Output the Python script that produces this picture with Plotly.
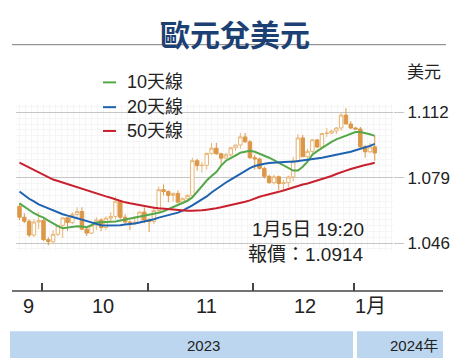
import plotly.graph_objects as go

# ---------------- data ----------------
dates = [
    "2023-09-25", "2023-09-26", "2023-09-27", "2023-09-28", "2023-09-29",
    "2023-10-02", "2023-10-03", "2023-10-04", "2023-10-05", "2023-10-06",
    "2023-10-09", "2023-10-10", "2023-10-11", "2023-10-12", "2023-10-13",
    "2023-10-16", "2023-10-17", "2023-10-18", "2023-10-19", "2023-10-20",
    "2023-10-23", "2023-10-24", "2023-10-25", "2023-10-26", "2023-10-27",
    "2023-10-30", "2023-10-31",
    "2023-11-01", "2023-11-02", "2023-11-03", "2023-11-06", "2023-11-07",
    "2023-11-08", "2023-11-09", "2023-11-10", "2023-11-13", "2023-11-14",
    "2023-11-15", "2023-11-16", "2023-11-17", "2023-11-20", "2023-11-21",
    "2023-11-22", "2023-11-23", "2023-11-24", "2023-11-27", "2023-11-28",
    "2023-11-29", "2023-11-30",
    "2023-12-01", "2023-12-04", "2023-12-05", "2023-12-06", "2023-12-07",
    "2023-12-08", "2023-12-11", "2023-12-12", "2023-12-13", "2023-12-14",
    "2023-12-15", "2023-12-18", "2023-12-19", "2023-12-20", "2023-12-21",
    "2023-12-22", "2023-12-25", "2023-12-26", "2023-12-27", "2023-12-28",
    "2023-12-29",
    "2024-01-01", "2024-01-02", "2024-01-03", "2024-01-04", "2024-01-05",
]

open_ = [
    1.0645, 1.0590, 1.0570, 1.0500, 1.0566,
    1.0573, 1.0477, 1.0467, 1.0504, 1.0549, 1.0587, 1.0563, 1.0604, 1.0619, 1.0530,
    1.0510, 1.0550, 1.0576, 1.0538, 1.0585, 1.0594, 1.0671, 1.0590, 1.0566, 1.0563,
    1.0564, 1.0616,
    1.0576, 1.0568, 1.0624, 1.0729, 1.0720, 1.0700, 1.0710, 1.0666, 1.0683, 1.0700,
    1.0875, 1.0850, 1.0852, 1.0912, 1.0938, 1.0910, 1.0888, 1.0905, 1.0940, 1.0954,
    1.0995, 1.0970,
    1.0890, 1.0884, 1.0836, 1.0796, 1.0764, 1.0794, 1.0760, 1.0764, 1.0793, 1.0875,
    1.0990, 1.0895, 1.0922, 1.0980, 1.0944, 1.1012, 1.1014, 1.1025, 1.1040, 1.1105,
    1.1060,
    1.1040, 1.1035, 1.0945, 1.0920, 1.0945,
]
high = [
    1.0660, 1.0610, 1.0580, 1.0580, 1.0615,
    1.0590, 1.0490, 1.0525, 1.0550, 1.0590, 1.0590, 1.0615, 1.0640, 1.0640, 1.0540,
    1.0555, 1.0590, 1.0585, 1.0595, 1.0615, 1.0695, 1.0675, 1.0605, 1.0575, 1.0595,
    1.0620, 1.0640,
    1.0585, 1.0645, 1.0745, 1.0755, 1.0725, 1.0715, 1.0725, 1.0690, 1.0705, 1.0890,
    1.0885, 1.0870, 1.0915, 1.0965, 1.0965, 1.0915, 1.0915, 1.0945, 1.0955, 1.1015,
    1.1015, 1.0980,
    1.0905, 1.0890, 1.0845, 1.0805, 1.0805, 1.0800, 1.0780, 1.0800, 1.0895, 1.1010,
    1.1005, 1.0935, 1.0985, 1.0985, 1.1015, 1.1040, 1.1030, 1.1045, 1.1120, 1.1140,
    1.1075,
    1.1045, 1.1045, 1.0955, 1.0965, 1.1000,
]
low = [
    1.0575, 1.0560, 1.0490, 1.0490, 1.0530,
    1.0470, 1.0448, 1.0455, 1.0495, 1.0485, 1.0520, 1.0555, 1.0590, 1.0525, 1.0495,
    1.0505, 1.0525, 1.0520, 1.0525, 1.0565, 1.0580, 1.0580, 1.0555, 1.0525, 1.0550,
    1.0560, 1.0560,
    1.0515, 1.0555, 1.0615, 1.0700, 1.0665, 1.0670, 1.0660, 1.0655, 1.0670, 1.0695,
    1.0825, 1.0815, 1.0830, 1.0905, 1.0905, 1.0850, 1.0885, 1.0895, 1.0925, 1.0935,
    1.0965, 1.0885,
    1.0830, 1.0830, 1.0785, 1.0760, 1.0755, 1.0725, 1.0725, 1.0740, 1.0770, 1.0865,
    1.0895, 1.0885, 1.0910, 1.0940, 1.0940, 1.0995, 1.1010, 1.1010, 1.1025, 1.1060,
    1.1035,
    1.1030, 1.0940, 1.0890, 1.0915, 1.0875,
]
close = [
    1.0590, 1.0570, 1.0500, 1.0566, 1.0573,
    1.0477, 1.0467, 1.0504, 1.0549, 1.0587, 1.0563, 1.0604, 1.0619, 1.0530, 1.0510,
    1.0550, 1.0576, 1.0538, 1.0585, 1.0594, 1.0671, 1.0590, 1.0566, 1.0563, 1.0564,
    1.0616, 1.0576,
    1.0568, 1.0624, 1.0729, 1.0720, 1.0700, 1.0710, 1.0666, 1.0683, 1.0700, 1.0875,
    1.0850, 1.0852, 1.0912, 1.0938, 1.0910, 1.0888, 1.0905, 1.0940, 1.0954, 1.0995,
    1.0970, 1.0890,
    1.0884, 1.0836, 1.0796, 1.0764, 1.0794, 1.0760, 1.0764, 1.0793, 1.0875, 1.0990,
    1.0895, 1.0922, 1.0980, 1.0944, 1.1012, 1.1014, 1.1025, 1.1040, 1.1105, 1.1060,
    1.1040,
    1.1035, 1.0945, 1.0920, 1.0945, 1.0914,
]

ma10 = [
    1.0660, 1.0643, 1.0623, 1.0610, 1.0598, 1.0588, 1.0573, 1.0558, 1.0545, 1.0535,
    1.0538, 1.0543, 1.0545, 1.0543, 1.0540, 1.0550, 1.0563, 1.0565, 1.0565, 1.0565,
    1.0568, 1.0573, 1.0578, 1.0583, 1.0588, 1.0593, 1.0598, 1.0603, 1.0605, 1.0613,
    1.0620, 1.0630, 1.0643, 1.0653, 1.0663, 1.0673, 1.0690, 1.0720, 1.0745, 1.0775,
    1.0798, 1.0818, 1.0850, 1.0875, 1.0888, 1.0900, 1.0915, 1.0920, 1.0925, 1.0920,
    1.0910, 1.0903, 1.0890, 1.0878, 1.0865, 1.0853, 1.0840, 1.0825, 1.0825, 1.0845,
    1.0870, 1.0905, 1.0923, 1.0940, 1.0955, 1.0970, 1.0983, 1.0993, 1.1003, 1.1013,
    1.1020, 1.1020, 1.1015, 1.1008, 1.1000,
]
ma20 = [
    1.0720, 1.0700, 1.0683, 1.0670, 1.0655, 1.0645, 1.0635, 1.0623, 1.0615, 1.0605,
    1.0598, 1.0590, 1.0585, 1.0578, 1.0570, 1.0563, 1.0555, 1.0550, 1.0548, 1.0548,
    1.0548, 1.0550, 1.0553, 1.0555, 1.0558, 1.0563, 1.0568, 1.0575, 1.0580, 1.0588,
    1.0595, 1.0600, 1.0605, 1.0613, 1.0623, 1.0635, 1.0650, 1.0665, 1.0678, 1.0695,
    1.0715, 1.0733, 1.0750, 1.0765, 1.0780, 1.0795, 1.0810, 1.0825, 1.0838, 1.0848,
    1.0855, 1.0860, 1.0863, 1.0865, 1.0868, 1.0870, 1.0870, 1.0870, 1.0873, 1.0878,
    1.0880, 1.0885, 1.0888, 1.0890, 1.0895, 1.0900, 1.0905, 1.0908, 1.0915, 1.0920,
    1.0928, 1.0935, 1.0943, 1.0950, 1.0960,
]
ma50 = [
    1.0865, 1.0853, 1.0840, 1.0828, 1.0815, 1.0803, 1.0793, 1.0780, 1.0773, 1.0765,
    1.0755, 1.0748, 1.0740, 1.0733, 1.0725, 1.0718, 1.0710, 1.0703, 1.0695, 1.0688,
    1.0680, 1.0673, 1.0665, 1.0660, 1.0655, 1.0650, 1.0645, 1.0640, 1.0638, 1.0635,
    1.0633, 1.0630, 1.0628, 1.0625, 1.0623, 1.0623, 1.0623, 1.0623, 1.0625, 1.0628,
    1.0630, 1.0635, 1.0640, 1.0645, 1.0650, 1.0655, 1.0660, 1.0668, 1.0675, 1.0685,
    1.0693, 1.0700, 1.0705, 1.0713, 1.0718, 1.0725, 1.0733, 1.0740, 1.0748, 1.0755,
    1.0760, 1.0768, 1.0775, 1.0780, 1.0788, 1.0798, 1.0808, 1.0818, 1.0825, 1.0833,
    1.0840, 1.0848, 1.0853, 1.0858, 1.0865,
]

ma_names = ["10天線", "20天線", "50天線"]
y_ticks = [1.046, 1.079, 1.112]
y_ticktext = ["1.046", "1.079", "1.112"]
month_labels = ["9", "10", "11", "12", "1月"]
year_labels = ["2023", "2024年"]
title_text = "歐元兌美元"
unit_text = "美元"
quote_time = "1月5日 19:20"
quote_price = "報價：1.0914"

# ---------------- styling / layout ----------------
# the page body keeps its default 8px margin, so the figure is laid out
# in page pixels and shifted by that offset
OFF = 8
FW, FH = 474 - OFF, 363 - OFF


def px(x):
    return (x - OFF) / FW


def py(y):
    return 1 - (y - OFF) / FH


xi = list(range(len(dates)))

months = [d[:7] for d in dates]
bounds = [i - 0.3 for i in range(1, len(months)) if months[i] != months[i - 1]]
label_pos = [1.8, 17.3, 38.9, 59.4, 73.2]

ma_colors = ["#55a84a", "#1f63b0", "#c8202f"]
INC = "#e8b575"
DEC = "#dc9848"
TXT = "#222222"
FONT = "Liberation Sans, Arial, Noto Sans CJK TC, sans-serif"
NARROW = "Liberation Sans Narrow, Liberation Sans, Noto Sans CJK TC, sans-serif"
CJK = "Noto Sans CJK TC, Liberation Sans, sans-serif"

fig = go.Figure()
fig.add_trace(go.Candlestick(
    x=xi, open=open_, high=high, low=low, close=close,
    increasing=dict(line=dict(color=INC, width=1), fillcolor="white"),
    decreasing=dict(line=dict(color=DEC, width=1), fillcolor=DEC),
    whiskerwidth=0, showlegend=False, hoverinfo="skip",
))
for name, vals, col in zip(ma_names, [ma10, ma20, ma50], ma_colors):
    fig.add_trace(go.Scatter(
        x=xi, y=vals, mode="lines", name=name,
        line=dict(color=col, width=2), showlegend=False, hoverinfo="skip",
    ))

shapes = [
    dict(type="line", xref="paper", yref="paper", x0=px(12), x1=px(446),
         y0=py(44), y1=py(44), line=dict(color="#7a7a7a", width=1)),
    dict(type="line", xref="paper", yref="paper", x0=px(12), x1=px(443),
         y0=py(292.5), y1=py(292.5), line=dict(color="#444444", width=1.5)),
    dict(type="rect", xref="paper", yref="paper", x0=px(10), x1=px(353),
         y0=py(360), y1=py(333), fillcolor="#bcd6ef", line=dict(width=0), layer="below"),
    dict(type="rect", xref="paper", yref="paper", x0=px(357), x1=px(443),
         y0=py(360), y1=py(333), fillcolor="#bcd6ef", line=dict(width=0), layer="below"),
]
legend_y = [82, 107, 131]
for col, ly in zip(ma_colors, legend_y):
    shapes.append(dict(type="line", xref="paper", yref="paper", x0=px(103), x1=px(116),
                       y0=py(ly), y1=py(ly), line=dict(color=col, width=2)))

annotations = [
    dict(text="<b>" + title_text + "</b>", x=px(235), y=py(8), xref="paper", yref="paper",
         showarrow=False, font=dict(size=30, color="#1c3f74", family=CJK),
         xanchor="center", yanchor="top"),
    dict(text=unit_text, x=px(424), y=py(70), xref="paper", yref="paper",
         showarrow=False, font=dict(size=17, color=TXT, family=CJK),
         xanchor="center", yanchor="middle"),
    dict(text=quote_time, x=px(366), y=py(230), xref="paper", yref="paper",
         showarrow=False, font=dict(size=19, color=TXT, family=FONT),
         xanchor="right", yanchor="middle"),
    dict(text=quote_price, x=px(366), y=py(256), xref="paper", yref="paper",
         showarrow=False, font=dict(size=19, color=TXT, family=FONT),
         xanchor="right", yanchor="middle"),
    dict(text=year_labels[0], x=px(203), y=py(347), xref="paper", yref="paper",
         showarrow=False, font=dict(size=15, color=TXT, family=NARROW),
         xanchor="center", yanchor="middle"),
    dict(text=year_labels[1], x=px(414), y=py(347), xref="paper", yref="paper",
         showarrow=False, font=dict(size=15, color=TXT, family=NARROW),
         xanchor="center", yanchor="middle"),
]
for name, ly in zip(ma_names, legend_y):
    annotations.append(dict(text=name, x=px(125), y=py(ly), xref="paper", yref="paper",
                            showarrow=False, font=dict(size=18, color=TXT, family=FONT),
                            xanchor="left", yanchor="middle"))
for lab, pos in zip(month_labels, label_pos):
    annotations.append(dict(text=lab, x=pos, y=py(308), xref="x", yref="paper",
                            showarrow=False, font=dict(size=20, color=TXT, family=NARROW),
                            xanchor="center", yanchor="middle"))

fig.update_layout(
    width=FW, height=FH,
    margin=dict(l=0, r=0, t=0, b=0),
    paper_bgcolor="white", plot_bgcolor="white",
    font=dict(family=FONT, color=TXT),
    shapes=shapes, annotations=annotations,
    boxgap=0.15, boxgroupgap=0.15,
    xaxis=dict(
        domain=[px(16), px(393)], range=[-0.73, 77.8], anchor="free", position=py(292.5),
        rangeslider=dict(visible=False), showgrid=False, zeroline=False, showline=False,
        tickmode="array", tickvals=bounds, showticklabels=False,
        ticks="inside", ticklen=8, tickwidth=1.5, tickcolor="#444444",
        minor=dict(tickmode="linear", tick0=0, dtick=1.25, showgrid=True,
                   gridcolor="#f5f5f5", gridwidth=1, ticks=""),
    ),
    yaxis=dict(
        domain=[py(252), py(104)], range=[1.042, 1.116], side="right", anchor="x",
        tickmode="array", tickvals=y_ticks, ticktext=y_ticktext,
        showgrid=True, gridcolor="#c6c6c6", gridwidth=1, zeroline=False, showline=False,
        ticks="outside", ticklen=10, tickwidth=1, tickcolor="#c6c6c6",
        tickfont=dict(size=17, color=TXT, family=FONT),
        minor=dict(tickmode="linear", tick0=1.040, dtick=0.003, showgrid=True,
                   gridcolor="#f5f5f5", gridwidth=1, ticks=""),
    ),
)

fig.write_html("out.html")
